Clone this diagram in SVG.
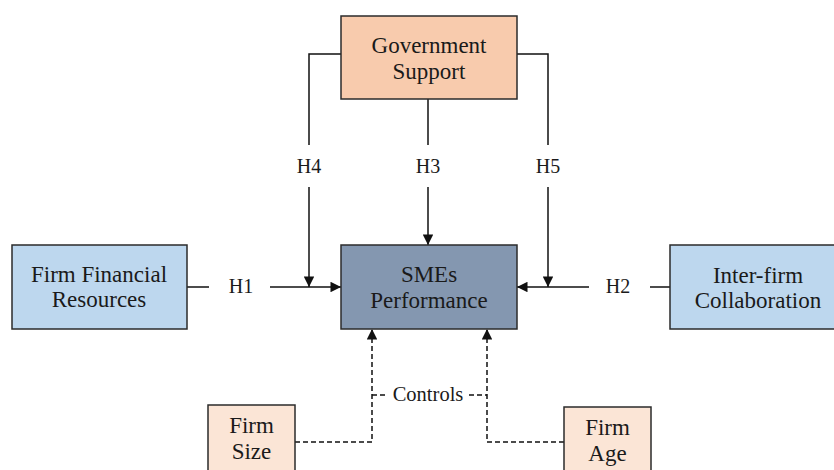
<svg xmlns="http://www.w3.org/2000/svg" width="834" height="470" viewBox="0 0 834 470">
  <style>
    .box { stroke: #2b2b2b; stroke-width: 1.5; }
    .gov { fill: #F8CBAD; }
    .res { fill: #BDD7EE; }
    .perf { fill: #8497B0; }
    .ctrl { fill: #FBE5D6; }
    .lbl { font-family: "Liberation Serif", "Times New Roman", serif; font-size: 23px; fill: #1a1a1a; text-anchor: middle; }
    .hyp { font-family: "Liberation Serif", "Times New Roman", serif; font-size: 20px; fill: #1a1a1a; text-anchor: middle; }
    .ln { fill: none; stroke: #111; stroke-width: 1.5; }
    .dash { fill: none; stroke: #111; stroke-width: 1.5; stroke-dasharray: 5 3; }
  </style>
  <defs>
    <marker id="arrow" viewBox="0 0 10 10" refX="10" refY="5" markerWidth="7.5" markerHeight="7" markerUnits="strokeWidth" orient="auto">
      <path d="M0,0 L10,5 L0,10 Z" fill="#111"/>
    </marker>
  </defs>

  <rect width="834" height="470" fill="#ffffff"/>

  <!-- connectors -->
  <g id="connectors">
    <!-- H3: government support straight down -->
    <path class="ln" d="M428,99 V145"/>
    <path class="ln" d="M428,187 V245" marker-end="url(#arrow)"/>
    <!-- H4: moderating path on the left -->
    <path class="ln" d="M341,54 H309 V145"/>
    <path class="ln" d="M309,187 V287" marker-end="url(#arrow)"/>
    <!-- H5: moderating path on the right -->
    <path class="ln" d="M517,54 H548 V145"/>
    <path class="ln" d="M548,187 V287" marker-end="url(#arrow)"/>
    <!-- H1 -->
    <path class="ln" d="M187,287 H209"/>
    <path class="ln" d="M270,287 H341" marker-end="url(#arrow)"/>
    <!-- H2 -->
    <path class="ln" d="M670,287 H650"/>
    <path class="ln" d="M589,287 H517" marker-end="url(#arrow)"/>
    <!-- control variables -->
    <path class="dash" d="M295,442 H372 V329" marker-end="url(#arrow)"/>
    <path class="dash" d="M564,442 H487 V329" marker-end="url(#arrow)"/>
    <path class="dash" d="M372,395 H388"/>
    <path class="dash" d="M469,395 H487"/>
    <text class="hyp" x="241" y="293">H1</text>
    <text class="hyp" x="618" y="293">H2</text>
    <text class="hyp" x="428" y="173">H3</text>
    <text class="hyp" x="309" y="173">H4</text>
    <text class="hyp" x="548" y="173">H5</text>
    <text class="hyp" x="428" y="401" style="font-size:20.5px">Controls</text>
  </g>

  <g id="government-support">
    <rect class="box gov" x="341" y="16" width="176" height="83"/>
    <text class="lbl" x="429" y="53">Government</text>
    <text class="lbl" x="429" y="79">Support</text>
  </g>

  <g id="smes-performance">
    <rect class="box perf" x="341" y="245" width="176" height="84"/>
    <text class="lbl" x="429" y="282">SMEs</text>
    <text class="lbl" x="429" y="308">Performance</text>
  </g>

  <g id="firm-financial-resources">
    <rect class="box res" x="12" y="245" width="175" height="84"/>
    <text class="lbl" x="99" y="282">Firm Financial</text>
    <text class="lbl" x="99" y="307">Resources</text>
  </g>

  <g id="inter-firm-collaboration">
    <rect class="box res" x="670" y="245" width="176" height="84"/>
    <text class="lbl" x="758" y="283">Inter-firm</text>
    <text class="lbl" x="758" y="308">Collaboration</text>
  </g>

  <g id="firm-size">
    <rect class="box ctrl" x="208" y="405" width="87" height="80"/>
    <text class="lbl" x="251.5" y="433">Firm</text>
    <text class="lbl" x="251.5" y="459">Size</text>
  </g>

  <g id="firm-age">
    <rect class="box ctrl" x="564" y="407" width="87" height="80"/>
    <text class="lbl" x="607.5" y="435">Firm</text>
    <text class="lbl" x="607.5" y="461">Age</text>
  </g>
</svg>
